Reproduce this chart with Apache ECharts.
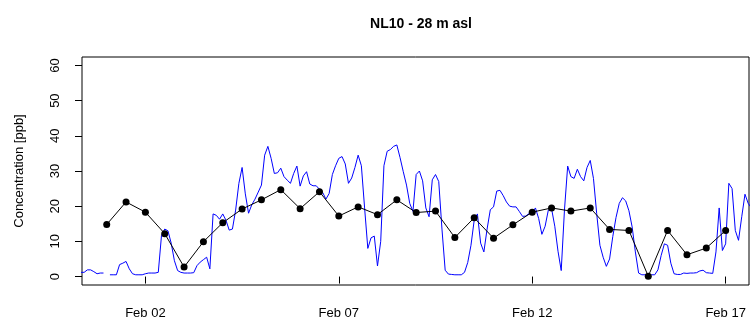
<!DOCTYPE html>
<html><head><meta charset="utf-8">
<script src="https://cdn.jsdelivr.net/npm/echarts@6/dist/echarts.min.js"></script>
<style>html,body{margin:0;padding:0;background:#fff}#c{width:754px;height:320px}</style>
</head><body><div id="c"></div>
<script>
const chartTitle = 'NL10 - 28 m asl';
const yAxisName = 'Concentration [ppb]';

// blue series: regular 2-hourly values starting Jan 31 08:00
const hourlyStart = '2011-01-31T08:00:00Z';
const hourlyStepHours = 2;
const hourlyValues = [
  1.2,1.2,1.9,1.9,1.4,0.8,1.0,1.0,
  null,0.5,0.5,0.5,3.4,3.8,4.3,2.2,0.8,0.5,0.5,0.5,
  0.8,1.0,1.0,1.0,1.2,11.7,13.5,13.0,9.5,4.5,1.7,1.2,
  1.0,1.0,1.0,1.1,3.1,4.1,4.8,5.5,2.2,17.8,17.4,16.3,
  17.8,16.0,13.2,13.5,18.9,26.5,31.0,23.5,18.0,20.4,22.0,24.0,
  26.0,34.5,37.0,33.6,29.3,29.5,30.8,28.4,27.4,26.5,29.3,31.4,
  25.7,28.6,29.8,26.3,25.8,25.8,24.8,23.9,22.0,23.6,29.0,31.5,
  33.6,34.1,32.0,26.5,28.0,31.0,34.5,31.5,19.5,8.0,11.0,11.5,
  3.0,10.0,31.5,35.6,36.1,37.0,37.4,33.8,29.8,26.0,20.8,18.5,
  29.0,30.0,27.2,19.5,17.0,27.5,29.0,27.0,13.5,1.8,0.7,0.6,
  0.5,0.5,0.5,1.2,4.0,8.9,16.0,17.8,9.5,7.0,13.5,19.0,
  19.8,24.3,24.5,23.0,21.2,20.0,19.8,19.8,18.5,17.1,17.2,17.9,
  18.2,19.5,16.5,12.0,14.3,18.9,19.3,14.3,7.2,1.7,18.9,31.4,
  28.4,27.9,30.5,28.4,27.2,31.0,33.0,27.9,17.9,8.9,5.5,2.9,
  5.0,11.4,16.8,20.8,22.4,21.5,18.7,14.1,7.0,1.0,0.5,0.5,
  0.5,0.5,0.5,1.9,6.0,9.3,8.9,3.8,0.8,0.6,0.6,1.0,
  0.9,1.0,1.0,1.1,1.6,1.8,1.1,1.0,0.9,7.0,19.5,7.4,
  9.3,26.5,25.0,13.1,10.3,17.0,23.4,20.8,19.5
];

// black series: 12-hourly means starting Feb 01 00:00
const meanStart = '2011-02-01T00:00:00Z';
const meanStepHours = 12;
const meanValues = [
  14.8,21.2,18.3,12.2,2.7,9.9,15.3,19.2,21.8,24.7,19.3,
  24.1,17.2,19.8,17.6,21.8,18.2,18.6,11.1,16.7,10.9,
  14.7,18.3,19.5,18.6,19.5,13.4,13.1,0.1,13.1,6.2,8.1,13.1
];

const xTickDates = ['2011-02-02T00:00:00Z','2011-02-07T00:00:00Z','2011-02-12T00:00:00Z','2011-02-17T00:00:00Z'];
const xTickLabels = ['Feb 02','Feb 07','Feb 12','Feb 17'];
const xRange = ['2011-01-31T08:40:00Z','2011-02-17T14:30:00Z'];
const yTicks = [0,10,20,30,40,50,60];
const yRange = [-2.4, 62.4];

const H = 3600 * 1000;
const t0h = Date.parse(hourlyStart);
const t0m = Date.parse(meanStart);
const blueData = hourlyValues.map((v, i) => [t0h + i * hourlyStepHours * H, v]);
const blackData = meanValues.map((v, i) => [t0m + i * meanStepHours * H, v]);
const xTickTimes = xTickDates.map(d => Date.parse(d));

const font = 'Liberation Sans, Arial, sans-serif';
const chart = echarts.init(document.getElementById('c'), null, {renderer: 'canvas'});
chart.setOption({
  animation: false,
  backgroundColor: '#fff',
  title: {
    text: chartTitle, left: 416, top: 12, textAlign: 'center',
    textStyle: {fontFamily: font, fontSize: 14, fontWeight: 'bold', color: '#000'}
  },
  grid: {left: 82, right: 5, top: 57, bottom: 35, show: true, borderColor: '#000', borderWidth: 1, backgroundColor: 'transparent'},
  xAxis: {
    type: 'value', min: Date.parse(xRange[0]), max: Date.parse(xRange[1]),
    axisLine: {show: false},
    splitLine: {show: false},
    axisTick: {show: true, customValues: xTickTimes, length: 7, lineStyle: {color: '#000', width: 1}},
    axisLabel: {
      customValues: xTickTimes, margin: 22, fontFamily: font, fontSize: 13, color: '#000',
      formatter: v => { const i = xTickTimes.indexOf(v); return i >= 0 ? xTickLabels[i] : ''; }
    }
  },
  yAxis: {
    type: 'value', min: yRange[0], max: yRange[1],
    name: yAxisName, nameLocation: 'middle', nameGap: 56,
    nameTextStyle: {fontFamily: font, fontSize: 13, color: '#000'},
    axisLine: {show: false},
    splitLine: {show: false},
    axisTick: {show: true, customValues: yTicks, length: 7, lineStyle: {color: '#000', width: 1}},
    axisLabel: {customValues: yTicks, rotate: 90, margin: 20, fontFamily: font, fontSize: 13, color: '#000'}
  },
  series: [
    {
      type: 'line', data: blueData, showSymbol: false, connectNulls: false, clip: true,
      lineStyle: {color: '#0000ff', width: 1}, itemStyle: {color: '#0000ff'}, z: 2
    },
    {
      type: 'line', data: blackData, symbol: 'circle', symbolSize: 7, showSymbol: true, clip: true,
      lineStyle: {color: '#000', width: 1}, itemStyle: {color: '#000'}, z: 3
    }
  ]
});
</script>
</body></html>
